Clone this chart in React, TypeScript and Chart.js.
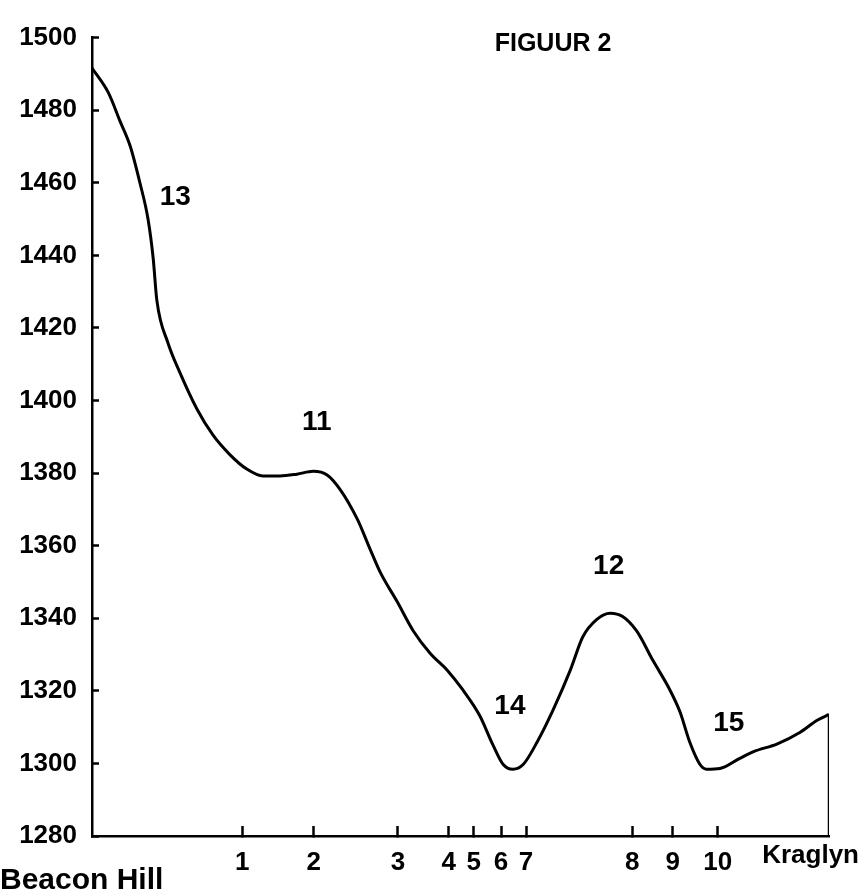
import React, { useEffect, useRef } from "react";
import { Chart, registerables } from "chart.js";

Chart.register(...registerables);

// Distance along the profile (0 = Beacon Hill, 100 = Kraglyn)
const distance = [
  0, 2.2, 3.8, 5.2, 6.5, 7.6, 8.3, 8.8, 10.3, 11.9, 14.2, 16.4, 18.7, 21.0, 23.2, 25.5,
  27.8, 30.0, 31.9, 33.7, 36.0, 37.7, 39.1, 41.4, 43.6, 45.9, 48.2, 50.3, 52.6, 54.4,
  55.8, 57.1, 58.5, 60.4, 62.6, 64.9, 66.6, 68.5, 70.3, 72.0, 73.9, 76.1, 78.4, 79.8,
  81.1, 82.5, 83.4, 85.2, 87.9, 89.7, 93.0, 96.1, 98.4, 100,
];
// Elevation (m)
const elevation = [
  1491.6, 1484.9, 1477.0, 1470.0, 1460.0, 1450.0, 1439.2, 1427.6, 1415.9, 1407.8, 1397.8,
  1390.5, 1385.1, 1381.1, 1379.2, 1379.2, 1379.7, 1380.5, 1379.5, 1375.4, 1367.3, 1359.2,
  1352.7, 1344.6, 1336.5, 1330.3, 1325.7, 1320.3, 1313.2, 1305.1, 1299.7, 1298.4, 1299.7,
  1305.9, 1314.9, 1325.7, 1334.9, 1339.7, 1341.4, 1340.5, 1336.5, 1328.4, 1320.3, 1314.1,
  1305.9, 1299.7, 1298.4, 1298.6, 1301.4, 1303.2, 1305.4, 1308.6, 1311.9, 1313.5,
];

// Kraglyn end edge (vertical line down to the base)
const edgeDistance = [100, 100];
const edgeElevation = [1313.5, 1280];

// X tick marks (numbered points along the route)
const xTickPositions = [20.4, 30.1, 41.5, 48.4, 51.8, 55.5, 58.9, 73.3, 78.8, 84.9];
const xTickLabels = ["1", "2", "3", "4", "5", "6", "7", "8", "9", "10"];

// Y axis
const yMin = 1280;
const yMax = 1500;
const yStep = 20;

// Feature labels on the profile
const featureLabels = ["13", "11", "14", "12", "15"];
const featureX = [11.3, 30.5, 56.7, 70.1, 86.4];
const featureY = [1456, 1394, 1315.7, 1354.3, 1311];

const startName = "Beacon Hill";
const endName = "Kraglyn";
const figureTitle = "FIGUUR 2";

const FONT = "'Liberation Sans', Arial, sans-serif";

export default function App() {
  const ref = useRef<HTMLCanvasElement | null>(null);

  useEffect(() => {
    if (!ref.current) return;
    const annotations = {
      id: "annotations",
      afterDraw(chart: any) {
        const ctx = chart.ctx;
        const xs = chart.scales.x;
        const ys = chart.scales.y;
        ctx.save();
        ctx.fillStyle = "#000";
        ctx.textAlign = "center";
        ctx.textBaseline = "middle";
        ctx.font = `bold 28px ${FONT}`;
        featureLabels.forEach((t, i) => {
          ctx.fillText(t, xs.getPixelForValue(featureX[i]), ys.getPixelForValue(featureY[i]));
        });
        ctx.font = `bold 25px ${FONT}`;
        ctx.fillText(figureTitle, 553, 44);
        ctx.textBaseline = "alphabetic";
        ctx.textAlign = "left";
        ctx.font = `bold 30px ${FONT}`;
        ctx.fillText(startName, 0, 889);
        ctx.textAlign = "right";
        ctx.font = `bold 26px ${FONT}`;
        ctx.fillText(endName, chart.width - 4, 863);
        ctx.restore();
      },
    };

    const chart = new Chart(ref.current, {
      type: "line",
      data: {
        datasets: [
          {
            data: distance.map((d, i) => ({ x: d, y: elevation[i] })),
            borderColor: "#000",
            borderWidth: 3,
            pointRadius: 0,
            cubicInterpolationMode: "monotone",
            fill: false,
          },
          {
            data: edgeDistance.map((d, i) => ({ x: d, y: edgeElevation[i] })),
            borderColor: "#000",
            borderWidth: 2.5,
            pointRadius: 0,
            tension: 0,
            fill: false,
          },
        ],
      },
      options: {
        animation: false,
        responsive: false,
        devicePixelRatio: 1,
        layout: { padding: { top: 22, right: 34, left: 0, bottom: 0 } },
        plugins: {
          legend: { display: false },
          tooltip: { enabled: false },
          title: { display: false },
        },
        scales: {
          x: {
            type: "linear",
            min: 0,
            max: 100,
            afterFit(scale: any) {
              scale.height = 60;
            },
            afterBuildTicks(scale: any) {
              scale.ticks = xTickPositions.map((v) => ({ value: v }));
            },
            border: { display: true, color: "#000", width: 2.5 },
            grid: {
              display: true,
              drawOnChartArea: false,
              drawTicks: true,
              tickLength: -10,
              tickColor: "#000",
              tickWidth: 2.5,
            },
            ticks: {
              autoSkip: false,
              maxRotation: 0,
              padding: 21,
              color: "#000",
              font: { family: FONT, size: 26, weight: "bold" },
              callback: (_v: any, i: number) => xTickLabels[i],
            },
          },
          y: {
            type: "linear",
            min: yMin,
            max: yMax,
            afterFit(scale: any) {
              scale.width = 92;
            },
            border: { display: true, color: "#000", width: 2.5 },
            grid: {
              display: true,
              drawOnChartArea: false,
              drawTicks: true,
              tickLength: -7,
              tickColor: "#000",
              tickWidth: 2.5,
            },
            ticks: {
              stepSize: yStep,
              padding: 22,
              color: "#000",
              font: { family: FONT, size: 26, weight: "bold" },
              callback: (v: any) => String(v),
            },
          },
        },
      },
      plugins: [annotations],
    } as any);
    return () => chart.destroy();
  }, []);

  return (
    <div style={{ position: "absolute", left: 0, top: 0, width: 863, height: 896, background: "#fff" }}>
      <canvas ref={ref} width={863} height={896} style={{ display: "block" }} />
    </div>
  );
}
